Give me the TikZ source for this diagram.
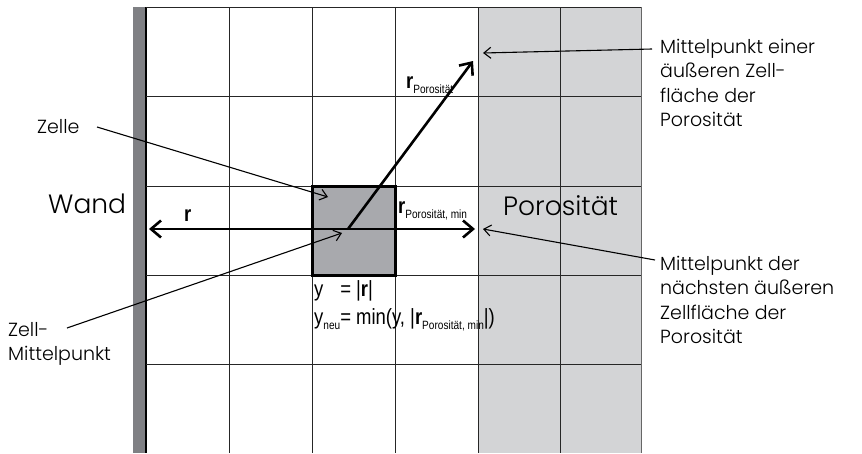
\documentclass[tikz,border=0pt]{standalone}
\usepackage{fontspec}
\setmainfont{Poppins}[UprightFont=* Light]
\newfontfamily\schmal[FakeStretch=0.84]{Liberation Sans}
\usetikzlibrary{arrows.meta, positioning}

\definecolor{wandgrau}{HTML}{7F8084}
\definecolor{porgrau}{HTML}{D3D4D6}
\definecolor{zellgrau}{HTML}{A8A9AD}

\newcommand{\idx}[1]{\raisebox{-5pt}{\fontsize{12}{12}\selectfont #1}}

\begin{document}
\begin{tikzpicture}[x=1pt, y=-1pt,
  gitter/.style={black!85, line width=0.9pt},
  vektor/.style={line width=2.6pt, -{Straight Barb[length=10pt, width=17pt]}},
  hinweis/.style={line width=1.1pt, -{Straight Barb[length=7pt, width=11pt]}},
  beschrift/.style={font=\fontsize{19}{24.5}\selectfont, align=left, inner sep=0pt},
  gross/.style={font=\fontsize{26.5}{30}\selectfont, inner sep=0pt},
  formel/.style={font=\schmal\fontsize{22}{28}\selectfont, align=left, inner sep=0pt},
  zellbox/.style={draw=black, fill=zellgrau, line width=3pt, minimum width=83pt, minimum height=89pt, inner sep=0pt}]
\useasboundingbox (0,0) rectangle (862,453);

% Porositaet und Wand
\fill [porgrau] (478,7) rectangle (641,453);
\fill [wandgrau] (133,7) rectangle (146,453);
\draw [line width=1.2pt] (146,7) -- (146,453);

% Gitter
\draw [gitter] (229,7) -- (229,453);
\draw [gitter] (312,7) -- (312,453);
\draw [gitter] (395,7) -- (395,453);
\draw [gitter] (478,7) -- (478,453);
\draw [gitter] (560,7) -- (560,453);
\draw [gitter, black!60] (641,7) -- (641,453);
\draw [gitter] (146,7) -- (641,7);
\draw [gitter] (146,96) -- (641,96);
\draw [gitter] (146,186) -- (641,186);
\draw [gitter] (146,275) -- (641,275);
\draw [gitter] (146,364) -- (641,364);

% Zelle
\node [zellbox] (zelle) at (353.5,230.5) {};

% Punkte
\coordinate (mp) at (348,229);
\coordinate (rwand) at (149,229);
\coordinate (rmin) at (475,229);
\coordinate (rpor) at (473,61);
\coordinate (pmin) at (483,229);
\coordinate (paussen) at (483,53);
\coordinate (zellpkt) at (328,197);
\coordinate (mppkt) at (342,233);

% Vektoren
\draw [vektor] (mp) -- (rwand);
\draw [vektor] (mp) -- (rmin);
\draw [vektor] (mp) -- (rpor);

\node [formel, anchor=base west] (rlbl) at (184,221) {\textbf{r}};
\node [formel, anchor=base west] (rminlbl) at (398,213) {\textbf{r}\idx{Porosität, min}};
\node [formel, anchor=base west] (rporlbl) at (406,88) {\textbf{r}\idx{Porosität}};

% Formel
\node [formel, anchor=base west] (formel1) at (314,296) {y\phantom{\idx{neu}}= |\textbf{r}|};
\node [formel, anchor=base west] (formel2) at (314,324) {y\idx{neu}= min(y, |\textbf{r}\idx{Porosität, min}|)};

% Beschriftungen
\node [gross, anchor=base west] (wand) at (48,213) {Wand};
\node [gross, anchor=base west] (poros) at (503,215) {Porosität};
\node [beschrift, anchor=base west] (zelletxt) at (37,133) {Zelle};
\node [beschrift, anchor=north west] (mptxt) at (8,322) {Zell-\\Mittelpunkt};
\node [beschrift, anchor=north west] (aussentxt) at (660,39) {Mittelpunkt einer\\äußeren Zell-\\fläche der\\Porosität};
\node [beschrift, anchor=north west] (mintxt) at (660,256) {Mittelpunkt der\\nächsten äußeren\\Zellfläche der\\Porosität};

\coordinate (zellstart) at (97,127);
\coordinate (mpstart) at (67,328);
\coordinate (aussenstart) at (652,49);
\coordinate (minstart) at (655,260);

% Hinweispfeile
\draw [hinweis] (zellstart) -- (zellpkt);
\draw [hinweis] (mpstart) -- (mppkt);
\draw [hinweis] (aussenstart) -- (paussen);
\draw [hinweis] (minstart) -- (pmin);
\end{tikzpicture}
\end{document}
